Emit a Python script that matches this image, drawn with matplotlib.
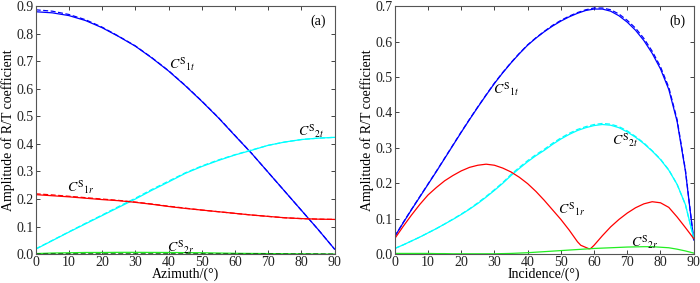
import matplotlib
matplotlib.use("Agg")
import matplotlib.pyplot as plt
import numpy as np

plt.rcParams['font.family'] = ['Liberation Serif', 'DejaVu Serif']
plt.rcParams['mathtext.fontset'] = 'stix'

# ---- Panel (a): azimuth ----
az = [0, 5, 10, 15, 20, 25, 30, 35, 40, 45, 50, 55, 60, 65, 70, 75, 80, 85, 90]
a_c1t = [0.880, 0.876, 0.866, 0.848, 0.822, 0.790, 0.755, 0.712, 0.665, 0.612, 0.555,
         0.495, 0.430, 0.366, 0.297, 0.228, 0.159, 0.090, 0.018]
a_c1t_d = [0.887, 0.882, 0.870, 0.851, 0.824, 0.791, 0.756, 0.713, 0.666, 0.613, 0.556,
           0.496, 0.431, 0.366, 0.297, 0.228, 0.159, 0.090, 0.018]
a_c2t = [0.018, 0.049, 0.080, 0.110, 0.140, 0.170, 0.200, 0.232, 0.262, 0.293, 0.318,
         0.340, 0.360, 0.377, 0.395, 0.407, 0.416, 0.421, 0.424]
a_c2t_d = [0.019, 0.050, 0.081, 0.112, 0.142, 0.173, 0.203, 0.235, 0.265, 0.295, 0.320,
           0.342, 0.361, 0.378, 0.395, 0.407, 0.416, 0.421, 0.424]
a_c1r = [0.216, 0.212, 0.208, 0.203, 0.198, 0.194, 0.188, 0.181, 0.173, 0.166, 0.160,
         0.154, 0.148, 0.142, 0.137, 0.132, 0.129, 0.127, 0.126]
a_c1r_d = [0.219, 0.215, 0.210, 0.205, 0.200, 0.195, 0.189, 0.182, 0.174, 0.167, 0.160,
           0.154, 0.148, 0.142, 0.137, 0.132, 0.129, 0.127, 0.126]
a_c2r = [0.002, 0.004, 0.005, 0.006, 0.006, 0.0065, 0.0065, 0.0062, 0.006, 0.0055, 0.005,
         0.004, 0.003, 0.0025, 0.002, 0.0015, 0.001, 0.0005, 0.0]
a_c2r_d = [0.0005, 0.001, 0.001, 0.001, 0.001, 0.001, 0.001, 0.001, 0.001, 0.001, 0.001,
           0.001, 0.001, 0.001, 0.001, 0.0005, 0.0005, 0.0005, 0.0]

# ---- Panel (b): incidence ----
inc = [0, 2.5, 5, 7.5, 10, 12.5, 15, 17.5, 20, 22.5, 25, 27.5, 30, 32.5, 35, 37.5,
       40, 42.5, 45, 47.5, 50, 52.5, 55, 57.5, 60, 62.5, 65, 67.5, 70, 72.5, 75,
       77.5, 80, 82.5, 85, 87.5, 90]
b_c1t = [0.050, 0.088, 0.125, 0.161, 0.197, 0.233, 0.270, 0.307, 0.344, 0.380, 0.415,
         0.449, 0.482, 0.512, 0.540, 0.566, 0.590, 0.610, 0.628, 0.644, 0.658, 0.670,
         0.680, 0.688, 0.692, 0.692, 0.686, 0.673, 0.655, 0.632, 0.603, 0.567, 0.523,
         0.465, 0.375, 0.235, 0.040]
b_c1t_d = [0.050, 0.089, 0.126, 0.162, 0.198, 0.234, 0.271, 0.308, 0.345, 0.381, 0.416,
           0.450, 0.483, 0.513, 0.541, 0.567, 0.591, 0.611, 0.629, 0.646, 0.660, 0.672,
           0.682, 0.690, 0.695, 0.695, 0.690, 0.678, 0.660, 0.638, 0.609, 0.573, 0.529,
           0.471, 0.380, 0.238, 0.040]
b_c2t = [0.016, 0.026, 0.037, 0.048, 0.060, 0.072, 0.085, 0.098, 0.112, 0.127, 0.143,
         0.161, 0.180, 0.200, 0.222, 0.242, 0.261, 0.278, 0.293, 0.310, 0.325, 0.338,
         0.349, 0.357, 0.363, 0.366, 0.364, 0.357, 0.345, 0.330, 0.312, 0.291, 0.267,
         0.237, 0.197, 0.140, 0.045]
b_c2t_d = [0.016, 0.026, 0.037, 0.048, 0.060, 0.072, 0.085, 0.099, 0.113, 0.128, 0.145,
           0.163, 0.182, 0.202, 0.225, 0.245, 0.264, 0.281, 0.296, 0.313, 0.328, 0.341,
           0.352, 0.360, 0.366, 0.369, 0.367, 0.360, 0.348, 0.332, 0.314, 0.292, 0.268,
           0.238, 0.197, 0.140, 0.045]
b_c2r = [0.002, 0.002, 0.002, 0.002, 0.002, 0.0015, 0.0015, 0.001, 0.001, 0.001, 0.001,
         0.001, 0.001, 0.0015, 0.002, 0.003, 0.004, 0.0055, 0.007, 0.0085, 0.010, 0.0115,
         0.013, 0.0145, 0.016, 0.017, 0.018, 0.019, 0.020, 0.0205, 0.021, 0.021, 0.0195,
         0.018, 0.014, 0.009, 0.003]
inc_r = [0, 2.5, 5, 7.5, 10, 12.5, 15, 17.5, 20, 22.5, 25, 27.5, 30, 32.5, 35, 37.5,
         40, 42.5, 45, 47.5, 50, 52.5, 55, 56, 58.5, 59, 60, 62.5, 65, 67.5, 70, 72.5,
         75, 77.5, 80, 82.5, 85, 87.5, 90]
b_c1r = [0.044, 0.078, 0.110, 0.140, 0.167, 0.188, 0.207, 0.222, 0.235, 0.245, 0.251,
         0.254, 0.251, 0.243, 0.232, 0.217, 0.199, 0.177, 0.152, 0.125, 0.098, 0.068,
         0.035, 0.025, 0.015, 0.016, 0.025, 0.052, 0.077, 0.098, 0.116, 0.131, 0.142,
         0.148, 0.145, 0.132, 0.105, 0.075, 0.044]

fig = plt.figure(figsize=(7.0, 2.83), dpi=100)
axa = fig.add_axes([0.051, 0.102, 0.427, 0.876])
axb = fig.add_axes([0.564, 0.102, 0.427, 0.876])

lw = 0.9
dash = (0, (4, 2))
axa.plot(az, a_c1t, color='#0000ff', lw=lw)
axa.plot(az, a_c1t_d, color='#0000ff', lw=lw, ls=dash)
axa.plot(az, a_c2t, color='#00ffff', lw=lw)
axa.plot(az, a_c2t_d, color='#00ffff', lw=lw, ls=dash)
axa.plot(az, a_c1r, color='#ff0000', lw=lw)
axa.plot(az, a_c1r_d, color='#ff0000', lw=lw, ls=dash)
axa.plot(az, a_c2r, color='#22ee22', lw=lw)
axa.plot(az, a_c2r_d, color='#006600', lw=lw, ls=dash)

axb.plot(inc, b_c1t, color='#0000ff', lw=lw)
axb.plot(inc, b_c1t_d, color='#0000ff', lw=lw, ls=dash)
axb.plot(inc, b_c2t, color='#00ffff', lw=lw)
axb.plot(inc, b_c2t_d, color='#00ffff', lw=lw, ls=dash)
axb.plot(inc_r, b_c1r, color='#ff0000', lw=lw)
axb.plot(inc, b_c2r, color='#22ee22', lw=lw)

fs = 10
for ax, ymax, xl, tag in [(axa, 0.9, 'Azimuth/(°)', '(a)'), (axb, 0.7, 'Incidence/(°)', '(b)')]:
    ax.set_xlim(0, 90)
    ax.set_ylim(0, ymax)
    ax.set_xticks(np.arange(0, 91, 10))
    ax.set_yticks(np.arange(0, ymax + 0.001, 0.1))
    ax.set_yticklabels([f'{v:.1f}' for v in np.arange(0, ymax + 0.001, 0.1)])
    ax.tick_params(direction='in', top=True, right=True, labelsize=fs, length=3,
                   width=0.6, pad=1.5, colors='#222222')
    for s in ax.spines.values():
        s.set_linewidth(0.8)
        s.set_color('#555555')
    ax.set_xlabel(xl, fontsize=fs, labelpad=-1)
    ax.set_ylabel('Amplitude of R/T coefficient', fontsize=fs, labelpad=1)
    ax.text(0.945, 0.94, tag, transform=ax.transAxes, fontsize=fs, ha='center', va='center')

lfs = 10
def lab(ax, x, y, s):
    ax.text(x, y, s, fontsize=lfs, ha='left', va='center')

lab(axa, 40, 0.69, r'$C^{\mathrm{S}}{}_{1t}$')
lab(axa, 79, 0.445, r'$C^{\mathrm{S}}{}_{2t}$')
lab(axa, 9.5, 0.242, r'$C^{\mathrm{S}}{}_{1r}$')
lab(axa, 39.5, 0.024, r'$C^{\mathrm{S}}{}_{2r}$')

lab(axb, 29.5, 0.465, r'$C^{\mathrm{S}}{}_{1t}$')
lab(axb, 65.5, 0.322, r'$C^{\mathrm{S}}{}_{2t}$')
lab(axb, 49, 0.128, r'$C^{\mathrm{S}}{}_{1r}$')
lab(axb, 71, 0.034, r'$C^{\mathrm{S}}{}_{2r}$')

fig.savefig('out.png', dpi=100)
